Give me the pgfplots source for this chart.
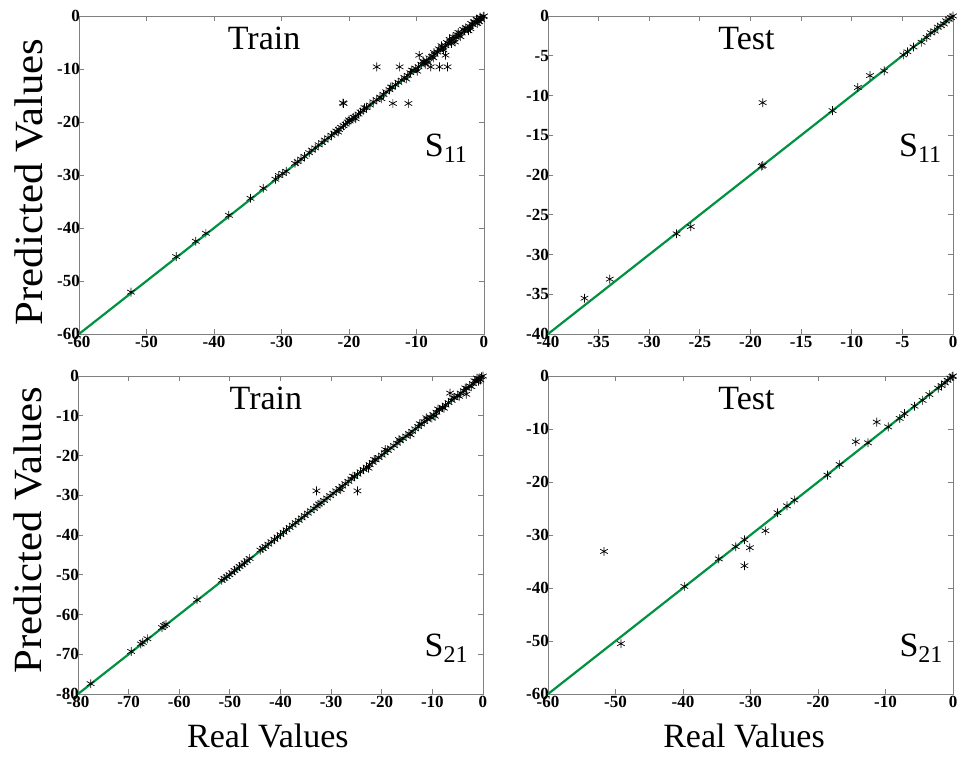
\documentclass[border=0pt]{standalone}
\usepackage{pgfplots}
\pgfplotsset{compat=1.18}
\usepackage{fontspec}
\setmainfont{Liberation Serif}
\definecolor{linegreen}{RGB}{0,145,65}
\definecolor{axgray}{RGB}{128,128,128}
\newcommand{\bigfont}{\fontsize{34}{36}\selectfont}
\newcommand{\ylfont}{\fontsize{40}{42}\selectfont}
\pgfplotsset{
  myax/.style={
    scale only axis, width=405pt, height=318pt,
    anchor=south west, clip=false,
    axis line style={axgray, line width=0.8pt},
    tick style={axgray, line width=0.8pt},
    major tick length=5pt,
    tick align=inside,
    /pgf/number format/assume math mode=true,
    ticklabel style={font=\bfseries\fontsize{17}{17}\selectfont},
    yticklabel style={inner sep=0pt, xshift=1pt},
    xticklabel style={inner sep=2pt},
  },
  fitline/.style={linegreen, line width=2.2pt},
  pts/.style={only marks, mark=asterisk, mark size=4.4pt, black, mark options={line width=0.7pt}},
}
\begin{document}
\begin{tikzpicture}[x=1pt,y=1pt]
\path[use as bounding box] (0,0) rectangle (958,756);
% Top-left: Train S11
\begin{axis}[myax, at={(79pt,422pt)},
  xmin=-60, xmax=0, ymin=-60, ymax=0,
  xtick={-60,-50,...,0}, ytick={-60,-50,...,0}]
\addplot[fitline] coordinates {(-60,-60) (0,0)};
\addplot[pts] table {
x y
-52.3 -52.1
-45.6 -45.4
-42.7 -42.5
-41.2 -41.0
-37.8 -37.6
-34.6 -34.4
-32.7 -32.5
-30.9 -30.8
-30.4 -30.1
-29.8 -29.7
-29.3 -29.3
-28.0 -27.8
-27.6 -27.5
-27.1 -27.0
-26.6 -26.5
-25.9 -25.8
-25.5 -25.3
-25.0 -24.9
-24.5 -24.3
-24.0 -23.9
-23.6 -23.4
-23.1 -23.0
-22.6 -22.5
-22.2 -22.1
-21.9 -21.7
-21.5 -21.4
-21.2 -21.0
-20.8 -20.7
-20.5 -20.4
-20.2 -20.0
-19.9 -19.8
-19.6 -19.5
-19.3 -19.1
-19.0 -18.9
-18.6 -18.5
-18.3 -18.1
-17.9 -17.8
-17.4 -17.3
-16.9 -16.8
-16.4 -16.2
-15.9 -15.8
-15.4 -15.3
-14.9 -14.8
-14.5 -14.3
-14.0 -13.9
-13.6 -13.4
-13.1 -13.0
-12.7 -12.5
-12.2 -12.1
-11.8 -11.6
-11.3 -11.2
-10.9 -10.7
-10.5 -10.3
-10.1 -9.9
-9.7 -9.6
-9.3 -9.1
-8.9 -8.8
-8.5 -8.4
-8.1 -7.9
-7.7 -7.6
-7.3 -7.2
-6.9 -6.8
-6.5 -6.4
-6.1 -6.0
-5.7 -5.6
-5.3 -5.2
-4.9 -4.8
-4.5 -4.4
-4.1 -4.0
-3.7 -3.6
-3.3 -3.2
-2.9 -2.8
-2.5 -2.4
-2.1 -2.0
-1.7 -1.6
-1.3 -1.2
-0.9 -0.8
-0.5 -0.4
-0.1 -0.1
0 0
-6.3 -5.6
-4.3 -4.9
-3.1 -2.5
-2.3 -2.8
-1.1 -0.6
-0.7 -1.1
-7.4 -6.9
-8.7 -9.1
-3.8 -3.1
-5.1 -4.4
-4.6 -3.9
-1.9 -1.4
-11.5 -11.9
-10.7 -10.2
-9.9 -10.4
-9.0 -8.5
-8.3 -8.8
-7.5 -7.9
-6.7 -6.2
-6.0 -6.4
-5.5 -5.0
-4.8 -5.2
-4.0 -3.5
-3.5 -3.9
-2.7 -2.2
-2.0 -2.4
-1.5 -1.1
-1.0 -1.4
-0.4 -0.7
-0.6 -0.2
-13.8 -13.4
-15.2 -15.6
-17.7 -17.3
-21.6 -21.9
-20.0 -19.6
-19.0 -19.4
-15.9 -9.6
-12.5 -9.6
-9.6 -7.4
-7.9 -9.6
-6.6 -9.6
-5.4 -9.6
-5.7 -7.4
-20.8 -16.5
-20.9 -16.4
-13.5 -16.5
-11.2 -16.5
};
\node[font=\bigfont] at (rel axis cs:0.457,0.93) {Train};
\node[font=\bigfont, anchor=base] at (rel axis cs:0.906,0.5575) {S\raisebox{-0.16em}{\fontsize{24}{24}\selectfont 11}};
\node[font=\ylfont, rotate=90] at (rel axis cs:-0.124,0.478) {\scalebox{1.07}[1]{Predicted Values}};
\end{axis}
% Top-right: Test S11
\begin{axis}[myax, at={(548pt,422pt)},
  xmin=-40, xmax=0, ymin=-40, ymax=0,
  xtick={-40,-35,...,0}, ytick={-40,-35,...,0}]
\addplot[fitline] coordinates {(-40,-40) (0,0)};
\addplot[pts] table {
x y
-36.4 -35.5
-33.9 -33.1
-27.3 -27.4
-25.9 -26.5
-18.8 -10.9
-18.8 -18.8
-18.9 -18.9
-11.9 -11.9
-9.4 -9.0
-8.2 -7.5
-6.8 -6.9
-4.9 -4.9
-4.5 -4.5
-3.9 -3.9
-3.1 -3.3
-2.6 -2.7
-2.2 -2.1
-1.8 -1.9
-1.5 -1.4
-1.2 -1.2
-0.9 -1.0
-0.7 -0.6
-0.4 -0.4
-0.2 -0.2
0 0
};
\node[font=\bigfont] at (rel axis cs:0.49,0.93) {Test};
\node[font=\bigfont, anchor=base] at (rel axis cs:0.919,0.5575) {S\raisebox{-0.16em}{\fontsize{24}{24}\selectfont 11}};
\end{axis}
% Bottom-left: Train S21
\begin{axis}[myax, at={(78pt,62pt)},
  xmin=-80, xmax=0, ymin=-80, ymax=0,
  xtick={-80,-70,...,0}, ytick={-80,-70,...,0}]
\addplot[fitline] coordinates {(-80,-80) (0,0)};
\addplot[pts] table {
x y
-77.5 -77.4
-69.5 -69.3
-67.6 -67.4
-67.2 -67.0
-66.3 -66.1
-63.4 -63.3
-63.0 -62.8
-62.6 -62.5
-56.5 -56.3
-51.6 -51.4
-51.1 -50.9
-50.6 -50.5
-50.1 -50.0
-49.6 -49.5
-49.1 -48.9
-48.6 -48.5
-48.1 -47.9
-47.6 -47.5
-47.1 -47.0
-46.6 -46.5
-46.1 -45.9
-44.0 -43.8
-43.5 -43.4
-43.0 -42.9
-42.4 -42.3
-41.8 -41.7
-41.2 -41.1
-40.6 -40.5
-40.0 -39.9
-39.4 -39.3
-38.8 -38.7
-38.2 -38.1
-37.6 -37.5
-37.0 -36.9
-36.4 -36.3
-35.8 -35.7
-35.2 -35.1
-34.6 -34.5
-34.0 -33.9
-33.4 -33.3
-32.8 -32.7
-32.4 -32.2
-32.0 -31.9
-31.4 -31.3
-30.8 -30.7
-30.2 -30.1
-29.6 -29.5
-29.0 -28.9
-28.4 -28.3
-27.8 -27.7
-27.2 -27.1
-26.6 -26.5
-26.0 -25.9
-25.4 -25.3
-24.8 -24.7
-24.2 -24.1
-23.6 -23.5
-23.0 -22.9
-22.4 -22.3
-21.8 -21.7
-21.2 -21.1
-20.6 -20.5
-20.0 -19.9
-19.4 -19.3
-18.8 -18.7
-18.2 -18.1
-17.6 -17.5
-17.0 -16.9
-16.4 -16.3
-15.8 -15.7
-15.2 -15.1
-14.6 -14.5
-14.0 -13.9
-13.4 -13.3
-12.8 -12.7
-12.2 -12.1
-11.6 -11.5
-11.0 -10.9
-10.4 -10.3
-9.8 -9.7
-9.2 -9.1
-8.6 -8.5
-8.0 -7.9
-7.4 -7.3
-6.8 -6.7
-6.2 -6.1
-5.6 -5.5
-5.0 -4.9
-4.4 -4.3
-3.8 -3.7
-3.2 -3.1
-2.6 -2.5
-2.0 -1.9
-1.4 -1.3
-0.8 -0.7
-0.3 -0.2
0 0
-6.5 -4.3
-3.3 -4.6
-1.2 -0.5
-0.5 -1.0
-11.2 -10.5
-19.3 -18.5
-22.6 -23.2
-9.5 -10.1
-16.6 -16.0
-14.3 -14.8
-12.5 -12.0
-10.1 -10.6
-8.9 -8.3
-7.7 -8.1
-5.9 -5.4
-4.7 -5.1
-3.5 -3.0
-2.3 -2.7
-1.7 -1.2
-0.9 -1.3
-21.5 -21.0
-25.7 -25.2
-28.1 -28.6
-32.9 -28.9
-24.8 -28.9
};
\node[font=\bigfont] at (rel axis cs:0.464,0.93) {Train};
\node[font=\bigfont, anchor=base] at (rel axis cs:0.909,0.117) {S\raisebox{-0.16em}{\fontsize{24}{24}\selectfont 21}};
\node[font=\ylfont, rotate=90] at (rel axis cs:-0.124,0.516) {\scalebox{1.07}[1]{Predicted Values}};
\node[font=\bigfont] at (rel axis cs:0.469,-0.132) {Real Values};
\end{axis}
% Bottom-right: Test S21
\begin{axis}[myax, at={(548pt,62pt)},
  xmin=-60, xmax=0, ymin=-60, ymax=0,
  xtick={-60,-50,...,0}, ytick={-60,-50,...,0}]
\addplot[fitline] coordinates {(-60,-60) (0,0)};
\addplot[pts] table {
x y
-51.7 -33.1
-49.2 -50.5
-39.8 -39.7
-34.7 -34.5
-32.2 -32.2
-30.9 -30.9
-30.9 -35.8
-30.1 -32.4
-27.8 -29.2
-26.0 -25.8
-24.6 -24.5
-23.5 -23.4
-18.6 -18.7
-16.8 -16.7
-14.4 -12.4
-12.6 -12.6
-11.3 -8.7
-9.6 -9.6
-7.9 -8.0
-7.2 -7.1
-5.7 -5.7
-4.5 -4.6
-3.5 -3.5
-2.2 -2.3
-1.7 -1.8
-1.2 -1.3
-0.8 -0.8
-0.4 -0.4
-0.1 -0.1
0 0
};
\node[font=\bigfont] at (rel axis cs:0.49,0.93) {Test};
\node[font=\bigfont, anchor=base] at (rel axis cs:0.921,0.117) {S\raisebox{-0.16em}{\fontsize{24}{24}\selectfont 21}};
\node[font=\bigfont] at (rel axis cs:0.484,-0.132) {Real Values};
\end{axis}
\end{tikzpicture}
\end{document}
